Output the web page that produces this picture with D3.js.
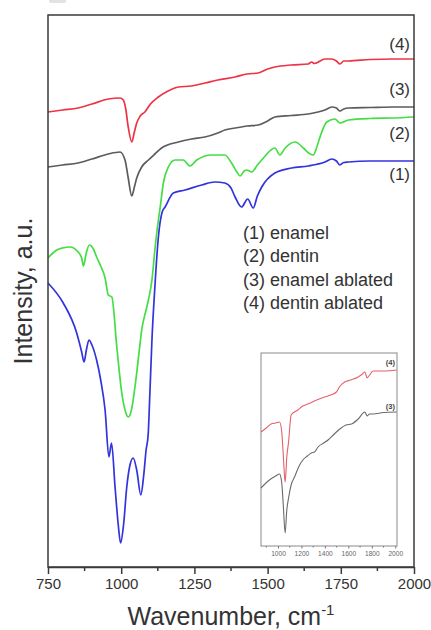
<!DOCTYPE html>
<html><head><meta charset="utf-8">
<script src="https://cdn.jsdelivr.net/npm/d3@7"></script>
<style>html,body{margin:0;padding:0;background:#fff;}svg{display:block;font-family:"Liberation Sans",Arial,Helvetica,sans-serif;}</style>
</head><body>
<svg id="chart" width="431" height="630"></svg>
<script>
// ---- data (wavenumber in cm^-1, intensity in arbitrary units) ----
const enamelX   = [750,802,848,865,873,881,890,900,916,930,945,958,967,979,990,998,1008,1019,1030,1041,1053,1067,1077,1085,1092,1098,1105,1115,1127,1140,1150,1178,1218,1275,1320,1354,1375,1389,1411,1432,1451,1465,1480,1525,1582,1639,1696,1719,1735,1747,1760,1776,1850,2000];
const enamelY   = [284,264,234,215,205,217,227,222,207,187,157,110,124,80,42,24,42,80,102,109,97,72,92,117,132,174,227,280,330,355,360,374,377,382,385,384,379,370,360,368,359,371,380,394,399,401,405,408,406,402,404.5,405,406,406];

const dentinX   = [750,780,800,825,853,865,871,880,891,905,916,930,945,956,968,985,1002,1015,1024,1035,1047,1060,1070,1085,1093,1105,1115,1127,1132,1144,1161,1184,1212,1235,1258,1309,1354,1377,1395,1406,1420,1429,1446,1465,1480,1525,1542,1560,1594,1622,1640,1656,1667,1679,1702,1730,1747,1776,1850,1930,2000];
const dentinY   = [309,317,319,320,315,309,301,313,322,318,310,301,289,272,270,220,174,155,150,157,180,212,237,257,267,287,317,347,357,384,400,407,407,401,407,412,412,404,395,391,396,397,395,402,407,419,412,419,425,419,414,412,419,430,445,448,444,447,448.5,449,450];

const enamelAblX = [750,800,853,900,956,996,1013,1024,1036,1045,1053,1070,1093,1115,1138,1195,1240,1286,1330,1354,1389,1430,1468,1500,1525,1580,1639,1696,1719,1735,1747,1760,1776,1850,1930,2000];
const enamelAblY = [400,402,404,408,413,415,407,389,371,380,389,400,407,413,419,425,428,430,434,437,439,441,442,446,450,451.5,453,457,460,459,456,458,459,459.5,460,460];

const dentinAblX = [750,800,853,900,956,996,1007,1015,1024,1036,1045,1053,1065,1081,1100,1127,1160,1195,1240,1286,1330,1389,1430,1468,1500,1525,1580,1639,1650,1660,1696,1719,1735,1747,1760,1776,1850,1930,2000];
const dentinAblY = [455,457,459,463,468,469,467,459,440,425,435,444,451,455,463,470,476,480,481,484,487,490,493,494,498,500,502,503,505,503.5,508,508,506,503,506,506,507.5,508,508];

// inset (ablated spectra, own scale)
const insetRedX  = [855,900,941,980,1013,1032,1045,1055,1061,1075,1090,1112,1140,1169,1210,1255,1330,1398,1450,1498,1530,1569,1620,1684,1720,1741,1760,1775,1812,1900,2012];
const insetRedY  = [114,118,122,123,124,114,91,71,64,89,104,131,134,136,140,142,146,149,151,154,160,164,166,169,172,174,168,170,175,175,176];
const insetGrayX = [855,927,980,1013,1032,1045,1061,1075,1090,1112,1141,1180,1212,1250,1284,1312,1341,1390,1427,1480,1527,1580,1627,1684,1741,1760,1780,1812,1900,2012];
const insetGrayY = [58,66,70,72,63,41,13,36,48,61,69,80,86,90,93,94,99,103,106,112,117,121,122,127,134,130,132,132,133.5,134];

const mainTicks   = [750,1000,1250,1500,1750,2000];
const mainMinor   = [875,1125,1375,1625,1875];
const insetTicks  = [1000,1200,1400,1600,1800,2000];
const insetMinor  = [900,1100,1300,1500,1700,1900];
const curveLabels = ["(1)","(2)","(3)","(4)"];
const legendText  = ["(1) enamel","(2) dentin","(3) enamel ablated","(4) dentin ablated"];
const insetLabels = ["(4)","(3)"];

// ---- drawing ----
const svg = d3.select("#chart");
const L = 48, R = 414, T = 15, B = 567;
const x = d3.scaleLinear().domain([750, 2000]).range([L, R]);
const y = d3.scaleLinear().domain([0, 552]).range([B, T]);

// small cut-off tab at top
svg.append("rect").attr("x", 49).attr("y", -6).attr("width", 17).attr("height", 9).attr("rx", 2).attr("fill", "#e2e2e2");

const series = [
  {xs: enamelX, ys: enamelY, color: "#3333dd"},
  {xs: dentinX, ys: dentinY, color: "#44dd44"},
  {xs: enamelAblX, ys: enamelAblY, color: "#5c5c5c"},
  {xs: dentinAblX, ys: dentinAblY, color: "#ee3344"}
];
const line = d3.line().x(d => x(d[0])).y(d => y(d[1])).curve(d3.curveMonotoneX);
series.forEach(s => {
  svg.append("path").datum(s.xs.map((v, i) => [v, s.ys[i]]))
    .attr("fill", "none").attr("stroke", s.color).attr("stroke-width", 1.7)
    .attr("stroke-linejoin", "round").attr("d", line);
});

// frame
svg.append("rect").attr("x", L).attr("y", T).attr("width", R - L).attr("height", B - T)
  .attr("fill", "none").attr("stroke", "#3a3a3a").attr("stroke-width", 1.5);

// x axis
const xAxis = svg.append("g").attr("transform", `translate(0,${B})`)
  .call(d3.axisBottom(x).tickValues(mainTicks).tickSize(7).tickSizeOuter(0).tickPadding(4).tickFormat(d3.format("d")));
xAxis.select(".domain").attr("stroke", "#3a3a3a").attr("stroke-width", 1.5);
xAxis.selectAll(".tick line").attr("stroke", "#3a3a3a").attr("stroke-width", 1.5);
xAxis.selectAll(".tick text").attr("font-size", 15).attr("fill", "#333").attr("font-family", "Liberation Sans, Arial, sans-serif");
svg.append("g").attr("transform", `translate(0,${B})`)
  .selectAll("line").data(mainMinor).join("line")
  .attr("x1", d => x(d)).attr("x2", d => x(d)).attr("y1", 0).attr("y2", 4)
  .attr("stroke", "#3a3a3a").attr("stroke-width", 1.5);

// axis titles
const xt = svg.append("text").attr("x", (L + R) / 2).attr("y", 625).attr("text-anchor", "middle")
  .attr("font-size", 25).attr("fill", "#333");
xt.append("tspan").text("Wavenumber, cm");
xt.append("tspan").attr("dy", -10).attr("font-size", 15).text("-1");
svg.append("text").attr("transform", `translate(32,${(T + B) / 2}) rotate(-90)`)
  .attr("text-anchor", "middle").attr("font-size", 25).attr("fill", "#333").text("Intensity, a.u.");

// curve labels at right
const labelYs = [180, 139, 95, 49.5];
svg.append("g").selectAll("text").data(curveLabels).join("text")
  .attr("x", 410).attr("y", (d, i) => labelYs[i]).attr("text-anchor", "end")
  .attr("font-size", 17).attr("fill", "#333").text(d => d);

// legend
svg.append("g").selectAll("text").data(legendText).join("text")
  .attr("x", 243).attr("y", (d, i) => 239 + i * 23.3)
  .attr("font-size", 18).attr("fill", "#333").text(d => d);

// ---- inset ----
const iL = 261, iR = 397, iT = 353, iB = 546;
const ix = d3.scaleLinear().domain([855, 2015]).range([iL, iR]);
const iy = d3.scaleLinear().domain([0, 193]).range([iB, iT]);
const iline = d3.line().x(d => ix(d[0])).y(d => iy(d[1])).curve(d3.curveMonotoneX);
svg.append("rect").attr("x", iL).attr("y", iT).attr("width", iR - iL).attr("height", iB - iT)
  .attr("fill", "#fff").attr("stroke", "#8a8a8a").attr("stroke-width", 1);
[{xs: insetRedX, ys: insetRedY, c: "#e4606a"}, {xs: insetGrayX, ys: insetGrayY, c: "#6a6a6a"}].forEach(s => {
  svg.append("path").datum(s.xs.map((v, i) => [v, s.ys[i]]))
    .attr("fill", "none").attr("stroke", s.c).attr("stroke-width", 1.1).attr("d", iline);
});
const iax = svg.append("g").attr("transform", `translate(0,${iB})`)
  .call(d3.axisBottom(ix).tickValues(insetTicks).tickSize(2.5).tickSizeOuter(0).tickPadding(3).tickFormat(d3.format("d")));
iax.select(".domain").remove();
iax.selectAll(".tick line").attr("stroke", "#777");
iax.selectAll(".tick text").attr("font-size", 6.6).attr("fill", "#666").attr("font-family", "Liberation Sans, Arial, sans-serif");
svg.append("g").attr("transform", `translate(0,${iB})`)
  .selectAll("line").data(insetMinor).join("line")
  .attr("x1", d => ix(d)).attr("x2", d => ix(d)).attr("y1", 0).attr("y2", 1.5)
  .attr("stroke", "#777");
const insetLabelYs = [365, 409];
svg.append("g").selectAll("text").data(insetLabels).join("text")
  .attr("x", 395).attr("y", (d, i) => insetLabelYs[i]).attr("text-anchor", "end")
  .attr("font-size", 7.5).attr("font-weight", "bold").attr("fill", "#444").text(d => d);
</script>
</body></html>
